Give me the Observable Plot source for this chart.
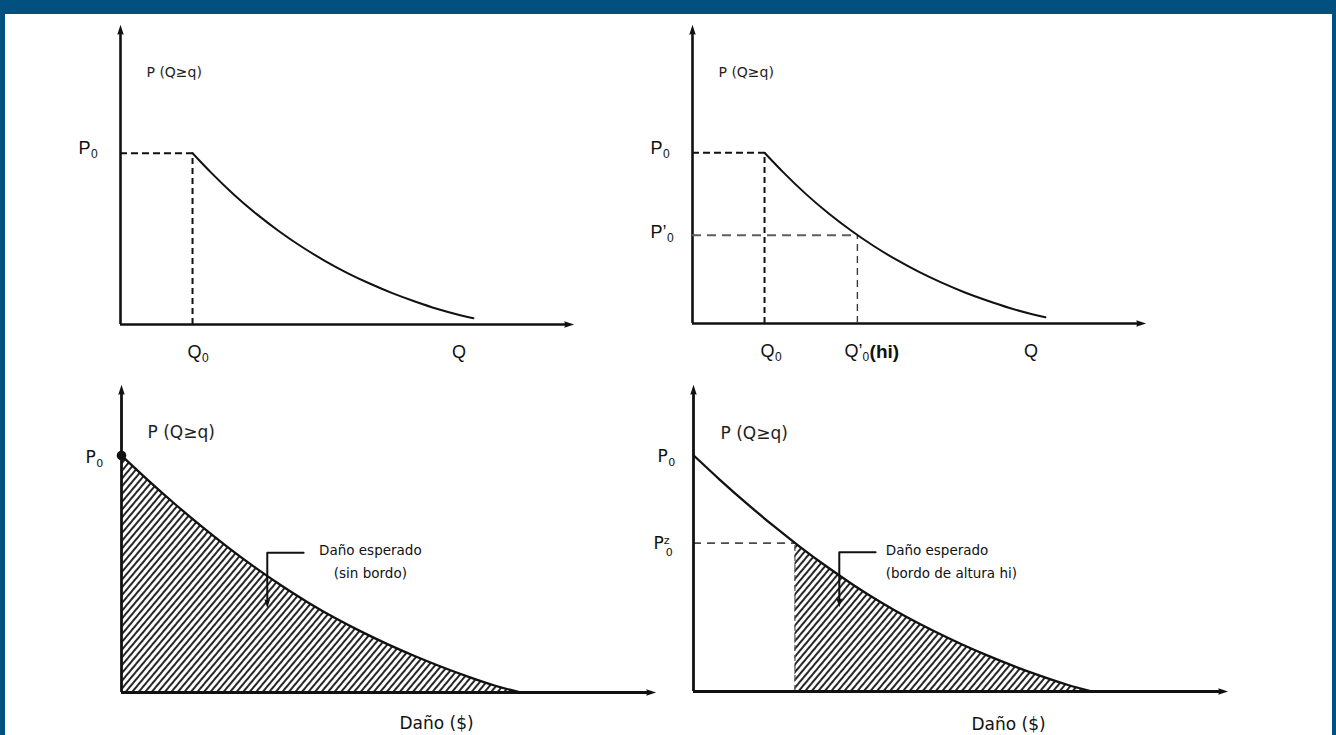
<!DOCTYPE html>
<html lang="es">
<head>
<meta charset="utf-8">
<script src="https://cdn.jsdelivr.net/npm/d3@7"></script>
<script src="https://cdn.jsdelivr.net/npm/@observablehq/plot@0.6"></script>
<style>
  html, body { margin: 0; padding: 0; background: #fff; }
  #frame { position: relative; width: 1336px; height: 735px; overflow: hidden; background: #fff; }
  .layer { position: absolute; left: 0; top: 0; width: 1336px; height: 735px; pointer-events: none; }
  .layer svg { max-width: none !important; display: block; }
  .band { position: absolute; background: #02507f; }
</style>
</head>
<body>
<div id="frame">
  <div class="layer" id="p1"></div>
  <div class="layer" id="p2"></div>
  <div class="layer" id="p3"></div>
  <div class="layer" id="p4"></div>
  <div class="band" style="left:0;top:0;width:1336px;height:14px"></div>
  <div class="band" style="left:0;top:0;width:5px;height:735px"></div>
  <div class="band" style="right:0;top:0;width:4px;height:735px"></div>
</div>
<script>
// ---------------- DATA (normalised axis units) ----------------
const yTitle = "P (Q≥q)";
const damageTitle = "Daño ($)";

// top panels: exceedance curve P(Q≥q) against Q
const curveQ = [0.159, 0.20, 0.25, 0.30, 0.35, 0.40, 0.45, 0.50, 0.55, 0.60, 0.65, 0.70, 0.75, 0.779];
const curveP = [0.573, 0.508, 0.435, 0.370, 0.312, 0.260, 0.214, 0.173, 0.137, 0.105, 0.077, 0.052, 0.031, 0.021];
const q0 = 0.159, p0 = 0.573;        // Q0 , P0
const q0hi = 0.364, p0hi = 0.296;    // Q'0(hi) , P'0
const qLabelX = 0.747;               // position of the "Q" label

// bottom panels: damage exceedance curve
const damageX = [0, 0.05, 0.10, 0.15, 0.20, 0.25, 0.30, 0.35, 0.40, 0.45, 0.50, 0.55, 0.60, 0.65, 0.70, 0.747];
const damageP = [0.772, 0.691, 0.614, 0.541, 0.472, 0.4075, 0.3475, 0.2925, 0.2425, 0.1975, 0.156, 0.118, 0.083, 0.051, 0.022, 0];
const zX = 0.19, zP = 0.485;         // P^z_0 and start of the shaded area
const leaderX = [0.341, 0.273, 0.273];
const leaderY = [0.455, 0.455, 0.30];
const leaderTip = 0.275;
const noteLeft = ["Daño esperado", "(sin bordo)"];
const noteRight = ["Daño esperado", "(bordo de altura hi)"];
const noteLeftPos = {x: 0.466, y: [0.462, 0.388]};
const noteRightPos = {x: 0.36, y: [0.459, 0.384]};
const damageLabelX = 0.59;

// ---------------- STYLE / LAYOUT ----------------
const INK = "#111";
const FONT_TOP = "'Liberation Sans', Arial, sans-serif";
const FONT_BOT = "'DejaVu Sans', sans-serif";
const layout = {
  p1: {left: 120, right: 573, top: 25, bottom: 324},
  p2: {left: 692, right: 1145, top: 25, bottom: 323},
  p3: {left: 121, right: 655, top: 385, bottom: 692},
  p4: {left: 693, right: 1227, top: 385, bottom: 691}
};

function arrowSymbol(angleDeg) {
  const a = angleDeg * Math.PI / 180, c = Math.cos(a), s = Math.sin(a);
  const pts = [[0, -2.4], [0.9, 0.35], [0, 0.05], [-0.9, 0.35]];
  return {draw(ctx, size) {
    const r = Math.sqrt(size / Math.PI);
    pts.forEach(([px, py], i) => {
      const X = (px * c - py * s) * r, Y = (px * s + py * c) * r;
      i ? ctx.lineTo(X, Y) : ctx.moveTo(X, Y);
    });
    ctx.closePath();
  }};
}
const arrowUp = arrowSymbol(0), arrowRight = arrowSymbol(90), arrowDown = arrowSymbol(180);

const mctx = document.createElement("canvas").getContext("2d");
function textWidth(str, size, family, weight) {
  mctx.font = `${weight || "normal"} ${size}px ${family}`;
  return mctx.measureText(str).width;
}
// label made of several pieces (main text, subscript, superscript)
function rich(datum, parts, opts) {
  const out = [];
  let off = opts.dx || 0;
  for (const p of parts) {
    out.push(Plot.text([datum], {
      x: "x", y: "y", text: () => p.text,
      dx: off + (p.nudge || 0), dy: (opts.dy || 0) + (p.dy || 0),
      fontSize: p.size, fontWeight: p.weight || "normal", fontFamily: opts.font,
      textAnchor: "start", lineAnchor: "bottom", fill: INK
    }));
    if (!p.overlay) off += textWidth(p.text, p.size, opts.font, p.weight) + (p.gap || 0);
  }
  return out;
}

function axesMarks(w) {
  return [
    Plot.ruleX([0], {y1: 0, y2: 0.985, stroke: INK, strokeWidth: w}),
    Plot.ruleY([0], {x1: 0, x2: 0.99, stroke: INK, strokeWidth: w}),
    Plot.dot([{x: 0, y: 1}], {x: "x", y: "y", symbol: arrowUp, r: 3.6, fill: INK, stroke: "none", dy: 8}),
    Plot.dot([{x: 1, y: 0}], {x: "x", y: "y", symbol: arrowRight, r: 3.6, fill: INK, stroke: "none", dx: -8})
  ];
}

function makePlot(l, marks) {
  return Plot.plot({
    width: 1336, height: 735,
    marginLeft: l.left, marginRight: 1336 - l.right,
    marginTop: l.top, marginBottom: 735 - l.bottom,
    x: {domain: [0, 1], axis: null},
    y: {domain: [0, 1], axis: null},
    style: {background: "transparent", overflow: "visible"},
    marks
  });
}

function addHatch(svg, id) {
  const NS = "http://www.w3.org/2000/svg";
  const defs = document.createElementNS(NS, "defs");
  const pat = document.createElementNS(NS, "pattern");
  pat.setAttribute("id", id);
  pat.setAttribute("patternUnits", "userSpaceOnUse");
  pat.setAttribute("width", "5");
  pat.setAttribute("height", "10");
  pat.setAttribute("patternTransform", "rotate(40)");
  const ln = document.createElementNS(NS, "line");
  ln.setAttribute("x1", "1"); ln.setAttribute("y1", "-1");
  ln.setAttribute("x2", "1"); ln.setAttribute("y2", "11");
  ln.setAttribute("stroke", "#000"); ln.setAttribute("stroke-width", "1.7");
  pat.appendChild(ln); defs.appendChild(pat);
  svg.insertBefore(defs, svg.firstChild);
}

const topCurve = curveQ.map((q, i) => ({x: q, y: curveP[i]}));
const dmgCurve = damageX.map((x, i) => ({x, y: damageP[i]}));
const dmgShaded = [{x: zX, y: zP}, ...dmgCurve.filter(d => d.x > zX + 0.005)];
const leader = leaderX.map((x, i) => ({x, y: leaderY[i]}));

function titleMark(y, dx, size, font) {
  return Plot.text([{x: 0, y}], {x: "x", y: "y", text: () => yTitle, dx, textAnchor: "start",
    lineAnchor: "middle", fontSize: size, fontFamily: font, fill: "#1e1e1e"});
}
function subLabel(datum, main, dx, dy, font, size, subSize) {
  return rich(datum, [{text: main, size}, {text: "0", size: subSize, dy: 4, nudge: 0.5}], {dx, dy, font});
}

// ---------------- PANEL 1 ----------------
const p1 = makePlot(layout.p1, [
  ...axesMarks(2.6),
  Plot.ruleY([p0], {x1: 0, x2: q0, stroke: INK, strokeWidth: 2, strokeDasharray: "7,4"}),
  Plot.ruleX([q0], {y1: 0, y2: p0, stroke: INK, strokeWidth: 2, strokeDasharray: "6,4"}),
  Plot.line(topCurve, {x: "x", y: "y", curve: "natural", stroke: INK, strokeWidth: 2}),
  titleMark(0.843, 26, 14, FONT_BOT),
  ...subLabel({x: 0, y: p0}, "P", -42, 1, FONT_TOP, 18, 12),
  ...subLabel({x: q0, y: 0}, "Q", -5, 33, FONT_TOP, 18, 12),
  Plot.text([{x: qLabelX, y: 0}], {x: "x", y: "y", text: () => "Q", dy: 33, lineAnchor: "bottom",
    textAnchor: "middle", fontSize: 18, fontFamily: FONT_TOP, fill: INK})
]);
document.getElementById("p1").append(p1);

// ---------------- PANEL 2 ----------------
const p2 = makePlot(layout.p2, [
  ...axesMarks(2.6),
  Plot.ruleY([p0], {x1: 0, x2: q0, stroke: INK, strokeWidth: 2, strokeDasharray: "7,4"}),
  Plot.ruleX([q0], {y1: 0, y2: p0, stroke: INK, strokeWidth: 2, strokeDasharray: "6,4"}),
  Plot.ruleY([p0hi], {x1: 0, x2: q0hi, stroke: "#5e5e5e", strokeWidth: 2, strokeDasharray: "9,6"}),
  Plot.ruleX([q0hi], {y1: 0, y2: p0hi, stroke: "#3a3a3a", strokeWidth: 1.4, strokeDasharray: "7,5"}),
  Plot.line(topCurve, {x: "x", y: "y", curve: "natural", stroke: INK, strokeWidth: 2}),
  titleMark(0.842, 26, 14, FONT_BOT),
  ...subLabel({x: 0, y: p0}, "P", -42, 1, FONT_TOP, 18, 12),
  ...subLabel({x: 0, y: p0hi}, "P’", -42, 3, FONT_TOP, 18, 12),
  ...subLabel({x: q0, y: 0}, "Q", -4, 33, FONT_TOP, 18, 12),
  ...rich({x: q0hi, y: 0}, [
    {text: "Q’", size: 18},
    {text: "0", size: 12, dy: 4, gap: 0.5},
    {text: "(hi)", size: 19, weight: "bold", dy: 1}
  ], {dx: -13, dy: 33, font: FONT_TOP}),
  Plot.text([{x: qLabelX, y: 0}], {x: "x", y: "y", text: () => "Q", dy: 33, lineAnchor: "bottom",
    textAnchor: "middle", fontSize: 18, fontFamily: FONT_TOP, fill: INK})
]);
document.getElementById("p2").append(p2);

// ---------------- PANEL 3 ----------------
const p3 = makePlot(layout.p3, [
  Plot.areaY(dmgCurve, {x: "x", y: "y", curve: "natural", fill: "url(#hatch3)"}),
  ...axesMarks(2.8),
  Plot.line(dmgCurve, {x: "x", y: "y", curve: "natural", stroke: INK, strokeWidth: 2.3}),
  Plot.dot([dmgCurve[0]], {x: "x", y: "y", r: 4.8, fill: INK, stroke: "none"}),
  Plot.line(leader, {x: "x", y: "y", stroke: INK, strokeWidth: 2}),
  Plot.dot([{x: leaderX[2], y: leaderTip}], {x: "x", y: "y", symbol: arrowDown, r: 3.2, fill: INK, stroke: "none", dy: -7.7}),
  titleMark(0.847, 26, 17, FONT_BOT),
  ...subLabel({x: 0, y: damageP[0]}, "P", -36, 8, FONT_BOT, 17, 11),
  Plot.text(noteLeft, {x: () => noteLeftPos.x, y: (d, i) => noteLeftPos.y[i], text: d => d,
    textAnchor: "middle", lineAnchor: "middle", fontSize: 13.5, fontFamily: FONT_BOT, fill: INK}),
  Plot.text([{x: damageLabelX, y: 0}], {x: "x", y: "y", text: () => damageTitle, dy: 31,
    textAnchor: "middle", lineAnchor: "middle", fontSize: 17, fontFamily: FONT_BOT, fill: INK})
]);
addHatch(p3, "hatch3");
document.getElementById("p3").append(p3);

// ---------------- PANEL 4 ----------------
const p4 = makePlot(layout.p4, [
  Plot.areaY(dmgShaded, {x: "x", y: "y", curve: "natural", fill: "url(#hatch4)"}),
  Plot.ruleY([zP], {x1: 0, x2: zX, stroke: "#4a4a4a", strokeWidth: 1.8, strokeDasharray: "8,6"}),
  Plot.ruleX([zX], {y1: 0, y2: zP, stroke: "#555", strokeWidth: 1.2, strokeDasharray: "6,4"}),
  ...axesMarks(2.8),
  Plot.line(dmgCurve, {x: "x", y: "y", curve: "natural", stroke: INK, strokeWidth: 2.3}),
  Plot.line(leader, {x: "x", y: "y", stroke: INK, strokeWidth: 2}),
  Plot.dot([{x: leaderX[2], y: leaderTip}], {x: "x", y: "y", symbol: arrowDown, r: 3.2, fill: INK, stroke: "none", dy: -7.7}),
  titleMark(0.844, 27, 17, FONT_BOT),
  ...subLabel({x: 0, y: damageP[0]}, "P", -36, 7, FONT_BOT, 17, 11),
  ...rich({x: 0, y: zP}, [
    {text: "P", size: 17},
    {text: "z", size: 11, dy: -5, overlay: true},
    {text: "0", size: 11, dy: 7, nudge: 2}
  ], {dx: -40, dy: 6, font: FONT_BOT}),
  Plot.text(noteRight, {x: () => noteRightPos.x, y: (d, i) => noteRightPos.y[i], text: d => d,
    textAnchor: "start", lineAnchor: "middle", fontSize: 13.5, fontFamily: FONT_BOT, fill: INK}),
  Plot.text([{x: damageLabelX, y: 0}], {x: "x", y: "y", text: () => damageTitle, dy: 33,
    textAnchor: "middle", lineAnchor: "middle", fontSize: 17, fontFamily: FONT_BOT, fill: INK})
]);
addHatch(p4, "hatch4");
document.getElementById("p4").append(p4);
</script>
</body>
</html>
